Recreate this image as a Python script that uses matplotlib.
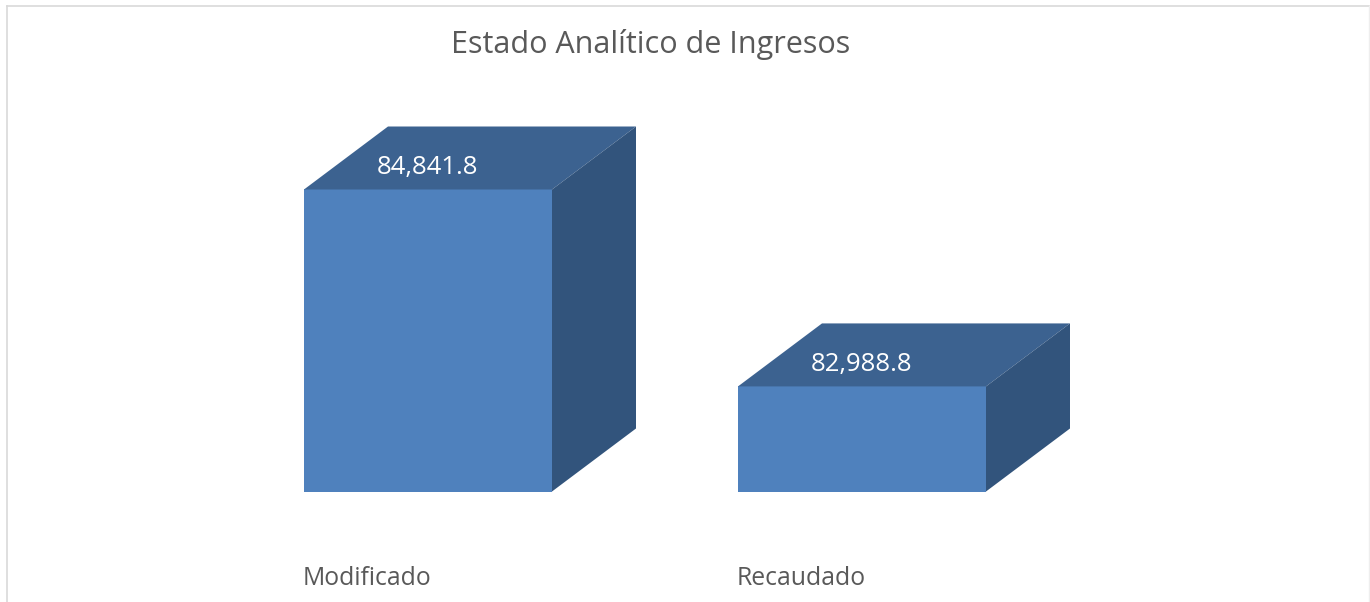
import matplotlib
matplotlib.use('Agg')
import matplotlib.pyplot as plt
from matplotlib.patches import Polygon
from matplotlib.lines import Line2D

# ---- data ----
categories = ['Modificado', 'Recaudado']
values = [84841.8, 82988.8]
value_labels = ['84,841.8', '82,988.8']
title = 'Estado Analítico de Ingresos'
base = 82000

plt.rcParams['font.family'] = ['Open Sans', 'DejaVu Sans']

W, H = 1370, 602
fig = plt.figure(figsize=(W / 100, H / 100), dpi=100)
fig.patch.set_facecolor('white')

# layout (pixels)
baseline_px = 491.5           # from top
px_per_unit = 302 / 2841.8
ymax = 86000
ax_h_px = (ymax - base) * px_per_unit
ax = fig.add_axes([0, (H - baseline_px) / H, 1, ax_h_px / H])
ax.set_ylim(base, ymax)
spacing_px = 434
c0 = 428
ax.set_xlim(-c0 / spacing_px, (W - c0) / spacing_px)
ax.axis('off')

width = 248 / spacing_px
dx = 84 / spacing_px
dy = 63 / px_per_unit

front_c = '#4F81BD'
top_c = '#3C6290'
side_c = '#32547C'

xs = list(range(len(categories)))
ax.bar(xs, [v - base for v in values], bottom=base, width=width,
       color=front_c, edgecolor='none', zorder=2)
for x, v, lab, cat in zip(xs, values, value_labels, categories):
    l, r = x - width / 2, x + width / 2
    ax.add_patch(Polygon([(l, v), (l + dx, v + dy), (r + dx, v + dy), (r, v)],
                         closed=True, facecolor=top_c, edgecolor='none', zorder=3))
    ax.add_patch(Polygon([(r, base), (r + dx, base + dy), (r + dx, v + dy), (r, v)],
                         closed=True, facecolor=side_c, edgecolor='none', zorder=3))
    ax.annotate(lab, (x, v), xytext=(0, 22), textcoords='offset pixels',
                ha='center', va='center', color='white', fontsize=18.5, zorder=4,
                annotation_clip=False)
    ax.annotate(cat, (l, base), xytext=(-1, -87), textcoords='offset pixels',
                ha='left', va='center', color='#595959', fontsize=17.8,
                annotation_clip=False)

fig.text(651 / W, 1 - 45 / H, title, ha='center', va='center',
         fontsize=22, color='#595959')

# chart border
bc = '#D9D9D9'
fig.add_artist(Line2D([6.5 / W, 6.5 / W], [0, 1 - 5.5 / H], transform=fig.transFigure, color=bc, lw=1.2))
fig.add_artist(Line2D([6.5 / W, 1369 / W], [1 - 5.5 / H, 1 - 5.5 / H], transform=fig.transFigure, color=bc, lw=1.2))
fig.add_artist(Line2D([1369 / W, 1369 / W], [0, 1 - 5.5 / H], transform=fig.transFigure, color='#EEEEEE', lw=1))

fig.savefig('out.png', dpi=100, facecolor='white')
